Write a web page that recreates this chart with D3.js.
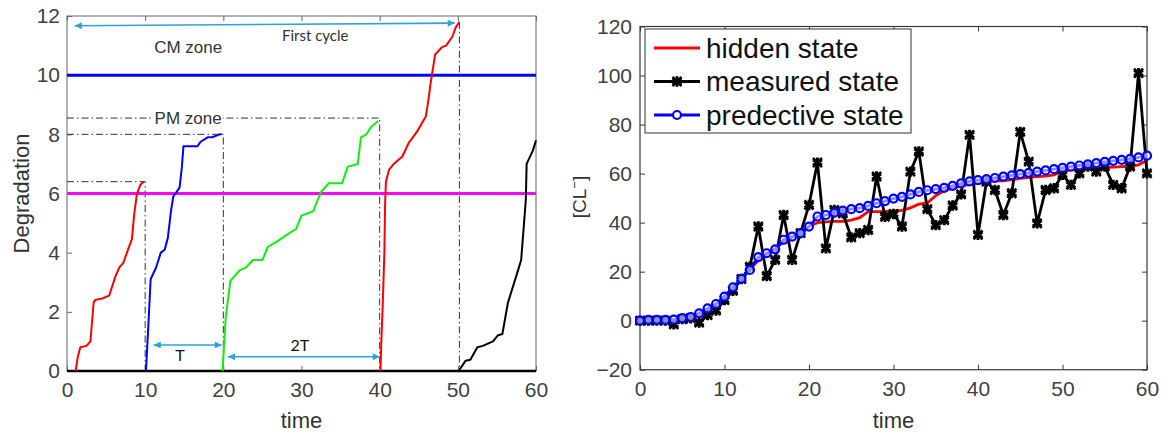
<!DOCTYPE html>
<html>
<head>
<meta charset="utf-8">
<script src="https://cdn.jsdelivr.net/npm/d3@7"></script>
<style>
  body { margin: 0; background: #fff; }
  svg { display: block; }
</style>
</head>
<body>
<div id="chart"></div>
<script>
// ---- left panel data: degradation paths [time, degradation] ----
const cycleRed1 = [[1.1,0],[1.4,0.5],[1.7,0.8],[2.5,0.85],[3.0,1.0],[3.4,2.3],[3.6,2.4],[4.5,2.45],[5.4,2.55],[6.2,3.2],[6.7,3.5],[7.2,3.65],[7.8,4.1],[8.3,4.45],[8.6,5.3],[8.9,5.9],[9.1,6.1],[9.4,6.3],[9.8,6.4]];
const cycleBlue = [[10.1,0],[10.4,1.5],[10.7,3.1],[11.4,3.5],[12.0,4.0],[12.5,4.1],[12.9,4.5],[13.3,5.4],[13.6,5.9],[14.4,6.2],[14.7,6.9],[14.9,7.6],[16.7,7.6],[17.1,7.75],[18.0,7.9],[18.6,7.9],[19.5,8.0],[19.8,8.0]];
const cycleGreen = [[19.9,0],[20.3,1.8],[20.9,3.05],[22.1,3.4],[22.9,3.5],[23.8,3.75],[25.0,3.75],[25.7,4.2],[26.7,4.35],[28.4,4.65],[29.3,4.8],[30.0,5.25],[31.0,5.35],[31.5,5.4],[32.1,5.8],[32.5,6.05],[33.5,6.35],[35.2,6.35],[35.9,6.9],[37.2,7.0],[37.6,7.9],[38.3,8.0],[38.9,8.25],[39.8,8.45]];
const cycleRed2 = [[40.1,0],[40.2,0.9],[40.4,2.3],[40.6,4.0],[40.7,5.7],[40.8,6.4],[41.2,6.8],[41.8,7.0],[42.9,7.25],[43.7,7.7],[44.8,8.1],[45.9,8.6],[46.2,9.1],[46.5,9.7],[47.1,10.7],[48.0,10.95],[48.5,11.0],[49.3,11.3],[49.7,11.6],[50.2,11.8]];
const cycleBlack = [[50.1,0],[51.0,0.35],[51.6,0.38],[52.5,0.8],[53.2,0.85],[54.5,1.0],[55.1,1.2],[55.7,1.25],[56.4,2.3],[57.7,3.4],[58.1,3.75],[58.5,5.1],[58.7,5.8],[58.8,7.0],[59.6,7.45],[60,7.8]];
const zeroLine = [[0,0],[60,0]];

const pmLevel = 6;
const cmLevel = 10;
// maintenance stops: dash-dot from the time axis up to the stop level
const stops = [[10,6.4],[20,8.0],[40,8.55]];
const failureStop = [50.2,11.8];

const xTicksLeft = [0,10,20,30,40,50,60];
const yTicksLeft = [0,2,4,6,8,10,12];

// ---- right panel data ----
const timeSteps = d3.range(0, 61);
const hiddenState = [0,0.1,0.2,0.3,0.4,0.7,1.2,2.2,4.0,6.5,9.8,13.5,17,21,24.5,27,29.5,32,34,35.8,38.5,
  40,40.3,40.5,40.5,41,42,44.5,44.5,44.6,44.8,45,46,47.5,48,51,53,54,55,55.5,56,
  56.5,57,57,57.5,58,58.5,58.8,59,59.5,61,61.5,61.8,62,62.2,62.4,62.6,62.8,63,63.5,65.5];
const measuredState = [0,0,0,0,-1.5,0.6,1,-0.8,2.3,4.1,8.4,12.2,17,22,38.4,18.2,24.8,43.1,24.8,35.7,47.2,
  64.5,29.5,45.2,43.8,34,35.7,37,58.8,42.4,43.5,38.4,60.8,69,45.5,39,41,47,51.5,75.8,35,
  56.7,53.3,43.1,52,77,64.9,39.7,53.3,54,59.5,55.4,60.1,62.9,60.8,62.9,55.4,54,62.9,101,60.1];
const predictiveState = [0,0.3,0.3,0.3,0.4,1.0,1.5,3.0,5.0,6.8,9.8,13.6,17.1,20.7,25.9,27.5,29.1,33,34.3,35.7,38.4,
  42.5,43.1,44.1,44.9,45.5,45.9,46.8,47.9,48.8,49.8,50.5,51.5,52.5,53.2,53.7,54.2,55,56,56.8,57.3,
  57.7,58.2,58.8,59.3,59.8,60.3,60.8,61.3,61.8,62.3,62.8,63.3,63.8,64.3,64.8,65.2,65.6,66,66.6,67.3];
const legendLabels = ["hidden state", "measured state", "predective state"];
const xTicksRight = [0,10,20,30,40,50,60];
const yTicksRight = [-20,0,20,40,60,80,100,120];

const W = 1169, H = 435;
const FONT = "'Liberation Sans', Arial, sans-serif";
const NOTE_FONT = "Lato, 'Open Sans', sans-serif";
const ARROW = "#2aa3dc";

const svg = d3.select("#chart").append("svg")
  .attr("width", W).attr("height", H)
  .style("font-family", FONT);

const defs = svg.append("defs");
defs.append("marker")
  .attr("id", "head")
  .attr("viewBox", "0 0 10 10")
  .attr("refX", 10).attr("refY", 5)
  .attr("markerWidth", 9).attr("markerHeight", 7)
  .attr("markerUnits", "userSpaceOnUse")
  .attr("orient", "auto-start-reverse")
  .append("path").attr("d", "M0,0L10,5L0,10Z").attr("fill", ARROW);

// ================= left panel =================
const xL = d3.scaleLinear().domain([0, 60]).range([67, 536]);
const yL = d3.scaleLinear().domain([0, 12]).range([371, 16]);
const lineL = d3.line().x(d => xL(d[0])).y(d => yL(d[1]));
const left = svg.append("g");

function styleAxis(g, color) {
  g.select(".domain").remove();
  g.selectAll(".tick line").attr("stroke", color);
  g.selectAll(".tick text").attr("fill", "#404040").style("font-size", "21px").style("font-family", FONT);
}

left.append("g")
  .attr("transform", `translate(0,${yL(0)})`)
  .call(d3.axisBottom(xL).tickValues(xTicksLeft).tickSizeInner(-5).tickSizeOuter(0).tickPadding(11))
  .call(g => styleAxis(g, "#666"));
left.append("g")
  .attr("transform", `translate(${xL(0)},0)`)
  .call(d3.axisLeft(yL).tickValues(yTicksLeft).tickSizeInner(-5).tickSizeOuter(0).tickPadding(7))
  .call(g => styleAxis(g, "#666"));
left.append("g")
  .attr("transform", `translate(0,${yL(12)})`)
  .call(d3.axisTop(xL).tickValues(xTicksLeft).tickSizeInner(-5).tickSizeOuter(0).tickFormat(""))
  .call(g => styleAxis(g, "#666"));
left.append("rect")
  .attr("x", xL(0)).attr("y", yL(12))
  .attr("width", xL(60) - xL(0)).attr("height", yL(0) - yL(12))
  .attr("fill", "none").attr("stroke", "#666").attr("stroke-width", 1);

// dash-dot guides
const dashDot = "7,3,1.5,3";
stops.forEach(([t, d]) => {
  left.append("path")
    .attr("d", lineL([[0, d], [t, d], [t, 0]]))
    .attr("fill", "none").attr("stroke", "#333").attr("stroke-width", 1)
    .attr("stroke-dasharray", dashDot);
});
left.append("path")
  .attr("d", lineL([failureStop, [failureStop[0], 0]]))
  .attr("fill", "none").attr("stroke", "#333").attr("stroke-width", 1)
  .attr("stroke-dasharray", dashDot);

// thresholds
left.append("path").attr("d", lineL([[0, cmLevel], [60, cmLevel]]))
  .attr("stroke", "#0000ff").attr("stroke-width", 3);
left.append("path").attr("d", lineL([[0, pmLevel], [60, pmLevel]]))
  .attr("stroke", "#ff00ff").attr("stroke-width", 3);

// degradation paths
left.append("path").attr("d", lineL(zeroLine)).attr("stroke", "#000").attr("stroke-width", 2.5);
[[cycleRed1, "#ff0000"], [cycleBlue, "#0000ff"], [cycleGreen, "#11ee11"], [cycleRed2, "#ff0000"], [cycleBlack, "#000000"]]
  .forEach(([pts, c]) => {
    left.append("path").attr("d", lineL(pts))
      .attr("fill", "none").attr("stroke", c).attr("stroke-width", 2).attr("stroke-linejoin", "round");
  });

// arrows
const arrows = [
  [[1.0, 11.67], [49.6, 11.76]],
  [[11.1, 0.88], [19.8, 0.88]],
  [[20.6, 0.48], [40.0, 0.48]]
];
arrows.forEach(pts => {
  left.append("path").attr("d", lineL(pts))
    .attr("stroke", ARROW).attr("stroke-width", 1.6).attr("fill", "none")
    .attr("marker-start", "url(#head)").attr("marker-end", "url(#head)");
});

// annotations
left.append("text").attr("x", xL(15.5)).attr("y", yL(10.74))
  .attr("text-anchor", "middle").attr("fill", "#333").style("font-size", "17px").text("CM zone");
left.append("text").attr("x", xL(27.5)).attr("y", yL(11.15))
  .attr("fill", "#333").style("font-family", NOTE_FONT).style("font-size", "15px").text("First cycle");
const pmMask = left.append("rect").attr("fill", "#fff");
const pm = left.append("text").attr("x", xL(15.5)).attr("y", yL(8.55) + 6)
  .attr("text-anchor", "middle").attr("fill", "#333").style("font-size", "17px").text("PM zone");
const bb = pm.node().getBBox();
pmMask.attr("x", bb.x - 1).attr("y", yL(8.55) - 2).attr("width", bb.width + 2).attr("height", 4);
left.append("text").attr("x", xL(14.45)).attr("y", yL(0.34))
  .attr("text-anchor", "middle").attr("fill", "#111").style("font-family", NOTE_FONT).style("font-size", "16px").text("T");
left.append("text").attr("x", xL(29.8)).attr("y", yL(0.68))
  .attr("text-anchor", "middle").attr("fill", "#111").style("font-family", NOTE_FONT).style("font-size", "16px").text("2T");

left.append("text").attr("x", (xL(0) + xL(60)) / 2).attr("y", 428)
  .attr("text-anchor", "middle").attr("fill", "#333").style("font-size", "22px").text("time");
left.append("text").attr("transform", `translate(29,${(yL(0) + yL(12)) / 2}) rotate(-90)`)
  .attr("text-anchor", "middle").attr("fill", "#333").style("font-size", "22px").text("Degradation");

// ================= right panel =================
const xR = d3.scaleLinear().domain([0, 60]).range([640, 1147]);
const yR = d3.scaleLinear().domain([-20, 120]).range([369.7, 26.5]);
const right = svg.append("g");
const axisColor = "#3a3a3a";

right.append("g")
  .attr("transform", `translate(0,${yR(-20)})`)
  .call(d3.axisBottom(xR).tickValues(xTicksRight).tickSizeInner(-5).tickSizeOuter(0).tickPadding(11))
  .call(g => styleAxis(g, axisColor));
right.append("g")
  .attr("transform", `translate(${xR(0)},0)`)
  .call(d3.axisLeft(yR).tickValues(yTicksRight).tickSizeInner(-5).tickSizeOuter(0).tickPadding(8))
  .call(g => styleAxis(g, axisColor));
right.append("g")
  .attr("transform", `translate(0,${yR(120)})`)
  .call(d3.axisTop(xR).tickValues(xTicksRight).tickSizeInner(-5).tickSizeOuter(0).tickFormat(""))
  .call(g => styleAxis(g, axisColor));
right.append("g")
  .attr("transform", `translate(${xR(60)},0)`)
  .call(d3.axisRight(yR).tickValues(yTicksRight).tickSizeInner(-5).tickSizeOuter(0).tickFormat(""))
  .call(g => styleAxis(g, axisColor));
right.append("rect")
  .attr("x", xR(0)).attr("y", yR(120))
  .attr("width", xR(60) - xR(0)).attr("height", yR(-20) - yR(120))
  .attr("fill", "none").attr("stroke", axisColor).attr("stroke-width", 1.2);

const lineR = d3.line().x((d, i) => xR(timeSteps[i])).y(d => yR(d));
const star1 = d3.symbol(d3.symbolAsterisk, 75);
const star2 = d3.symbol(d3.symbolTimes, 55);

right.append("path").attr("d", lineR(hiddenState))
  .attr("fill", "none").attr("stroke", "#ff0000").attr("stroke-width", 2.8);
right.append("path").attr("d", lineR(measuredState))
  .attr("fill", "none").attr("stroke", "#000").attr("stroke-width", 2.8).attr("stroke-linejoin", "round");
const stars = right.append("g").selectAll("g").data(measuredState).join("g")
  .attr("transform", (d, i) => `translate(${xR(timeSteps[i])},${yR(d)})`);
stars.append("path").attr("d", star1).attr("fill", "none").attr("stroke", "#000").attr("stroke-width", 3);
stars.append("path").attr("d", star2).attr("fill", "none").attr("stroke", "#000").attr("stroke-width", 2.6);

right.append("path").attr("d", lineR(predictiveState))
  .attr("fill", "none").attr("stroke", "#0000ff").attr("stroke-width", 2.8);
right.append("g").selectAll("circle").data(predictiveState).join("circle")
  .attr("cx", (d, i) => xR(timeSteps[i])).attr("cy", d => yR(d))
  .attr("r", 4).attr("fill", "#fff").attr("fill-opacity", 0.55)
  .attr("stroke", "#0000ff").attr("stroke-width", 2.2);

// legend
const lg = right.append("g");
lg.append("rect").attr("x", 645).attr("y", 29).attr("width", 266).attr("height", 104)
  .attr("fill", "#fff").attr("stroke", "#333").attr("stroke-width", 1);
const rowY = [48, 81.5, 115];
const legendColors = ["#ff0000", "#000", "#0000ff"];
legendLabels.forEach((lab, i) => {
  lg.append("line").attr("x1", 654).attr("x2", 700).attr("y1", rowY[i]).attr("y2", rowY[i])
    .attr("stroke", legendColors[i]).attr("stroke-width", 2.8);
  if (i === 1) {
    lg.append("path").attr("transform", `translate(677,${rowY[i]})`).attr("d", star1)
      .attr("fill", "none").attr("stroke", "#000").attr("stroke-width", 3);
    lg.append("path").attr("transform", `translate(677,${rowY[i]})`).attr("d", star2)
      .attr("fill", "none").attr("stroke", "#000").attr("stroke-width", 2.6);
  }
  if (i === 2) {
    lg.append("circle").attr("cx", 677).attr("cy", rowY[i]).attr("r", 4)
      .attr("fill", "#fff").attr("stroke", "#0000ff").attr("stroke-width", 2.2);
  }
  lg.append("text").attr("x", 706).attr("y", rowY[i] + 9.5)
    .attr("fill", "#111").style("font-size", "28px").text(lab);
});

right.append("text").attr("x", (xR(0) + xR(60)) / 2).attr("y", 428)
  .attr("text-anchor", "middle").attr("fill", "#333").style("font-size", "22px").text("time");
const yl = right.append("text").attr("transform", `translate(586,197) rotate(-90)`)
  .attr("text-anchor", "middle").attr("fill", "#333").style("font-size", "19px");
yl.append("tspan").text("[CL");
yl.append("tspan").attr("dy", -7).style("font-size", "13px").text("−");
yl.append("tspan").attr("dy", 7).text("]");
</script>
</body>
</html>
